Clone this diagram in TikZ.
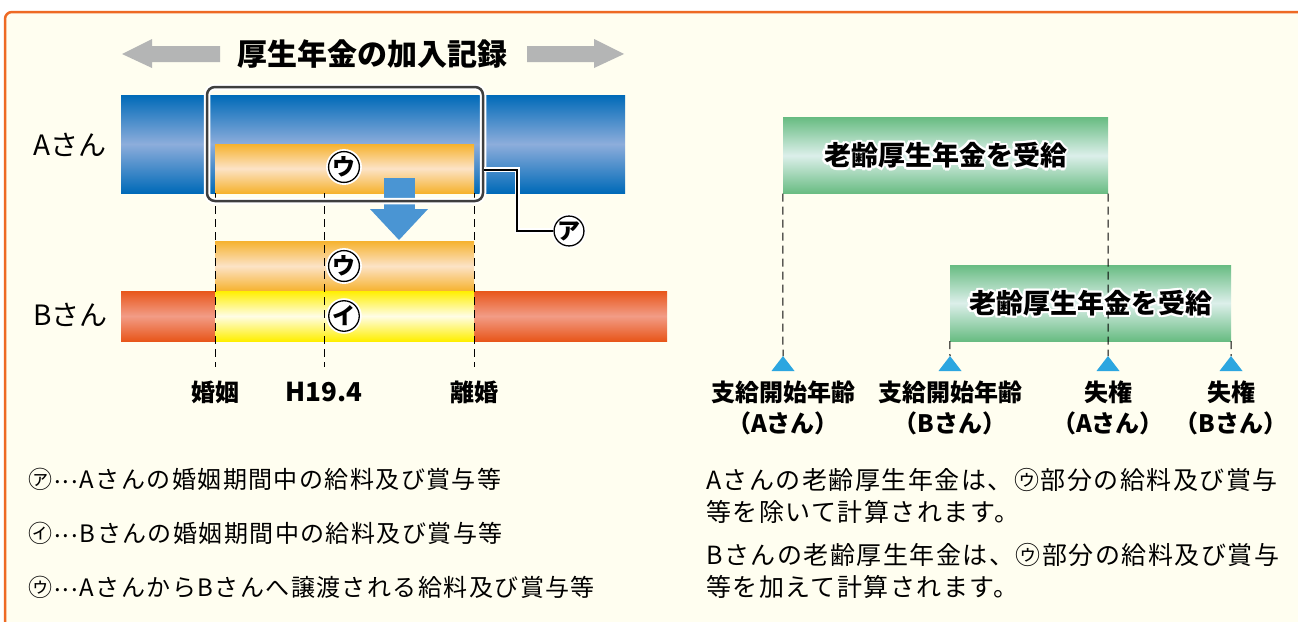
\documentclass[tikz,border=0pt]{standalone}
\usepackage{fontspec}
\setmainfont{Noto Sans CJK JP}
\usetikzlibrary{positioning,calc}
\tikzset{ > = stealth }

\definecolor{frameorange}{HTML}{EE6A24}
\definecolor{paper}{HTML}{FFFEF0}
\definecolor{bluedark}{HTML}{006AB8}
\definecolor{bluelight}{HTML}{8DADDB}
\definecolor{orgdark}{HTML}{F6B22E}
\definecolor{orglight}{HTML}{FCE3C6}
\definecolor{reddark}{HTML}{E8561A}
\definecolor{redlight}{HTML}{F29C86}
\definecolor{yeldark}{HTML}{FFEF00}
\definecolor{yellight}{HTML}{FFFDE6}
\definecolor{grndark}{HTML}{68BC82}
\definecolor{grnlight}{HTML}{DCEFEA}
\definecolor{arrowgray}{HTML}{B4B5B5}
\definecolor{arrowblue}{HTML}{4A95D3}
\definecolor{triblue}{HTML}{2CA6E0}
\definecolor{framegray}{HTML}{3E3E3E}

\newcommand\fs[1]{\fontsize{#1}{#1}\selectfont}
\newcommand\leaderdots{\raisebox{0.18em}{\hbox to 1.15em{\hss.\hss.\hss.\hss}}}
\newcommand\halotext[3]{%
  \foreach \ang in {0,30,...,330}
    { \node [white, font = \fs{27}\bfseries] at ($ (#2) + (\ang:2.2pt) $) {#3}; }
  \node (#1) [font = \fs{27}\bfseries] at (#2) {#3};
}

\begin{document}
\begin{tikzpicture}
  [
    x = 1pt, y = -1pt,
    every node/.style = { inner sep = 0pt },
    bar/.style = { top color = #1dark, bottom color = #1dark, middle color = #1light },
    ring/.style = { circle, draw, line width = 1.3pt, fill = white, minimum size = 29pt,
                    font = \fs{23}\bfseries, preaction = { draw = white, line width = 5pt } },
    guide/.style = { dash pattern = on 8pt off 5pt, line width = 1pt },
    lead/.style = { line width = 2pt, preaction = { draw = white, line width = 5.5pt } },
    recbox/.style = { draw = framegray, line width = 2.5pt, rounded corners = 8pt,
                      preaction = { draw = white, line width = 6.5pt } },
    tick/.style = { font = \fs{24}\bfseries },
    note/.style = { anchor = west, font = \fs{24}\addfontfeature{LetterSpace = 6} },
    para/.style = { anchor = west, align = left,
                    font = \fontsize{25}{32}\selectfont\addfontfeature{LetterSpace = 6} },
    paybox/.style = { bar = grn, minimum height = 76pt },
    when/.style = { align = center, font = \fontsize{24}{31}\selectfont\bfseries }
  ]
    \useasboundingbox (0,0) rectangle (1298,621);
    \fill [white] (0,0) rectangle (1298,621);
    \draw [frameorange, line width = 2.5pt, fill = paper, rounded corners = 7pt]
      (5,660) -- (5,12) -- (1330,12) -- (1330,660) -- cycle;

    % left: record of membership
    \node (title) at (372,54) {\fs{30}\bfseries 厚生年金の加入記録};
    \fill [arrowgray] (122,54) -- (152,39) -- (152,46) -- (220,46) -- (220,62)
      -- (152,62) -- (152,68) -- cycle;
    \fill [arrowgray] (624,54) -- (594,39) -- (594,46) -- (527,46) -- (527,62)
      -- (594,62) -- (594,68) -- cycle;

    \shade [bar = blue] (121,95) rectangle (625,193);
    \shade [bar = org] (215,144) rectangle (474,193);
    \shade [bar = red] (121,291) rectangle (667,341);
    \shade [bar = org] (215,241) rectangle (474,291);
    \shade [bar = yel] (215,291) rectangle (474,341);

    \fill [arrowblue] (384,178) rectangle (415,210);
    \fill [arrowblue] (370,209) -- (428,209) -- (399,240) -- cycle;

    \draw [guide] (215,193) -- (215,367);
    \draw [guide] (324,193) -- (324,367);
    \draw [guide] (474,193) -- (474,367);

    \node (rec) [recbox, minimum width = 276pt, minimum height = 114pt] at (345,144) {};
    \coordinate (tap) at ($ (rec.south east)!0.28!(rec.north east) $);
    \node (ka) [ring] at (569,231) {ア};
    \draw [lead] (tap) -- ++(33,0) |- (ka);

    \node (uA) [ring] at (344,167) {ウ};
    \node (uB) [ring] at (344,266) {ウ};
    \node (iB) [ring] at (344,316) {イ};

    \node (sanA) [anchor = west, font = \fs{28}] at (33,145) {Aさん};
    \node (sanB) [anchor = west, font = \fs{28}] at (33,315) {Bさん};

    \node (konin) [tick] at (215,392) {婚姻};
    \node (h19) [tick, font = \fs{26}\bfseries] at (324,392) {H19.4};
    \node (rikon) [tick] at (474,392) {離婚};

    \node (na) [note] at (28,479) {㋐\leaderdots Aさんの婚姻期間中の給料及び賞与等};
    \node (nb) [note] at (28,533) {㋑\leaderdots Bさんの婚姻期間中の給料及び賞与等};
    \node (nc) [note] at (28,587) {㋒\leaderdots AさんからBさんへ譲渡される給料及び賞与等};

    % right: pension periods
    \node (ga) [paybox, minimum width = 325pt] at (945.5,155.5) {};
    \node (gb) [paybox, minimum width = 281pt] at (1090.5,303) {};
    \halotext{ta}{ga.center}{老齢厚生年金を受給}
    \halotext{tb}{gb.center}{老齢厚生年金を受給}

    \coordinate (tA) at (783,356);
    \coordinate (tB) at (950,356);
    \coordinate (tC) at (1108,356);
    \coordinate (tD) at (1231,356);
    \draw [guide] (ga.south west) -- (tA);
    \draw [guide] (ga.south east) -- (tC);
    \draw [guide] (gb.south west) -- (tB);
    \draw [guide] (gb.south east) -- (tD);
    \foreach \t in {tA,tB,tC,tD}
      \fill [triblue] (\t) -- ++(-11.5,15) -- ++(23,0) -- cycle;

    \node (lA) [when] at (783,408) {支給開始年齢\\（Aさん）};
    \node (lB) [when] at (950,408) {支給開始年齢\\（Bさん）};
    \node (lC) [when] at (1108,408) {失権\\（Aさん）};
    \node (lD) [when] at (1231,408) {失権\\（Bさん）};

    \node (pa) [para] at (706,496) {Aさんの老齢厚生年金は、㋒部分の給料及び賞与\\等を除いて計算されます。};
    \node (pb) [para] at (706,571) {Bさんの老齢厚生年金は、㋒部分の給料及び賞与\\等を加えて計算されます。};
  \end{tikzpicture}
\end{document}
